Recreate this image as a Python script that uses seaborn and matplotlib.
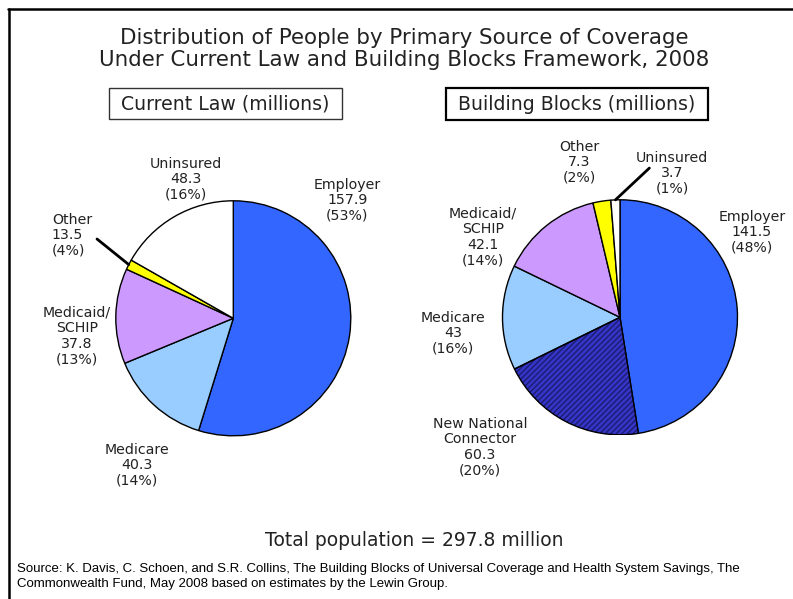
import matplotlib
matplotlib.use("Agg")
import matplotlib.pyplot as plt
import seaborn as sns
import numpy as np
from matplotlib.patches import Wedge, Rectangle
from matplotlib.lines import Line2D

# ---------------- data ----------------
left_categories = ["Employer", "Medicare", "Medicaid/\nSCHIP", "Other", "Uninsured"]
left_values = [157.9, 40.3, 37.8, 13.5, 48.3]          # values printed in labels
left_pcts = [53, 14, 13, 4, 16]
left_slice_sizes = [157.9, 40.3, 37.8, 4.0, 48.3]      # slice sizes as drawn in the original

right_categories = ["Employer", "New National\nConnector", "Medicare",
                    "Medicaid/\nSCHIP", "Other", "Uninsured"]
right_values = [141.5, 60.3, 43, 42.1, 7.3, 3.7]
right_pcts = [48, 20, 16, 14, 2, 1]

title_lines = ["Distribution of People by Primary Source of Coverage",
               "Under Current Law and Building Blocks Framework, 2008"]
left_title = "Current Law (millions)"
right_title = "Building Blocks (millions)"
total_text = "Total population = 297.8 million"
source_text = ("Source: K. Davis, C. Schoen, and S.R. Collins, The Building Blocks of Universal "
               "Coverage and Health System Savings, The\nCommonwealth Fund, May 2008 based on "
               "estimates by the Lewin Group.")

colors = {
    "Employer": "#3366FF",
    "Medicare": "#99CCFF",
    "Medicaid/\nSCHIP": "#CC99FF",
    "Other": "#FFFF00",
    "Uninsured": "#FFFFFF",
    "New National\nConnector": "#3535C8",
}

# ---------------- style ----------------
sns.set_style("white")
plt.rcParams["font.family"] = ["DejaVu Sans"]
TXT = "#222222"

W, H = 793, 599
fig = plt.figure(figsize=(W / 100, H / 100), dpi=100)
fig.patch.set_facecolor("white")


def px_axes(cx, cy, r):
    ax = fig.add_axes([(cx - r) / W, 1 - (cy + r) / H, 2 * r / W, 2 * r / H])
    return ax


def draw_pie(ax, cats, sizes, vals, pcts, label_pos, label_ha):
    wedges, _ = ax.pie(sizes, colors=[colors[c] for c in cats], startangle=90,
                       counterclock=False, radius=1.0,
                       wedgeprops=dict(edgecolor="black", linewidth=1.0))
    ax.set_xlim(-1, 1)
    ax.set_ylim(-1, 1)
    ax.set_aspect("equal")
    ax.axis("off")
    for c, v, p, (x, y), ha in zip(cats, vals, pcts, label_pos, label_ha):
        ax.text(x, y, f"{c}\n{v:g}\n({p}%)", ha=ha, va="center", fontsize=10.2,
                color=TXT, linespacing=1.13, multialignment=ha)
    return wedges


# left pie
R = 117.5
axL = px_axes(233.3, 318.3, R)
left_label_pos = [(0.97, 1.007), (-0.82, -1.249), (-1.33, -0.151), (-1.545, 0.709), (-0.40, 1.186)]
left_ha = ["center", "center", "center", "left", "center"]
wl = draw_pie(axL, left_categories, left_slice_sizes, left_values, left_pcts,
              left_label_pos, left_ha)
# leader line for "Other"
w = wl[3]
ang = np.deg2rad((w.theta1 + w.theta2) / 2)
axL.add_line(Line2D([-1.16, np.cos(ang)], [0.675, np.sin(ang)], color="black", lw=2,
                    clip_on=False))

# right pie
axR = px_axes(620.0, 317.3, R)
right_label_pos = [(1.123, 0.726), (-1.191, -1.104), (-1.421, -0.134), (-1.166, 0.683),
                   (-0.349, 1.322), (0.443, 1.228)]
right_ha = ["center"] * 6
wr = draw_pie(axR, right_categories, right_values, right_values, right_pcts,
              right_label_pos, right_ha)
# hatched connector slice
w = wr[1]
w.set_hatch("//////")
w.set_edgecolor("#1c1c70")
w.set_linewidth(0)
axR.add_patch(Wedge(w.center, w.r, w.theta1, w.theta2, fill=False, edgecolor="black",
                    linewidth=1.0))
# leader line for "Uninsured"
w = wr[5]
ang = np.deg2rad((w.theta1 + w.theta2) / 2)
axR.add_line(Line2D([0.25, np.cos(ang)], [1.27, np.sin(ang)], color="black", lw=2,
                    clip_on=False))

# ---------------- titles & boxes ----------------
fig.text(404 / W, 1 - 38 / H, title_lines[0], ha="center", va="center", fontsize=15.4, color=TXT)
fig.text(404 / W, 1 - 59.5 / H, title_lines[1], ha="center", va="center", fontsize=15.4, color=TXT)

fig.add_artist(Rectangle((109 / W, 1 - 119 / H), (342 - 109) / W, 31 / H,
                         transform=fig.transFigure, fill=False, edgecolor="#333333", lw=1.0))
fig.text(225.5 / W, 1 - 103.5 / H, left_title, ha="center", va="center", fontsize=13.6, color=TXT)
fig.add_artist(Rectangle((446 / W, 1 - 120 / H), (708 - 446) / W, 32 / H,
                         transform=fig.transFigure, fill=False, edgecolor="black", lw=1.6))
fig.text(577 / W, 1 - 104 / H, right_title, ha="center", va="center", fontsize=13.6, color=TXT)

fig.text(414 / W, 1 - 541 / H, total_text, ha="center", va="center", fontsize=13.5, color=TXT)
fig.text(17 / W, 1 - 576.5 / H, source_text, ha="left", va="center", fontsize=9.55,
         family=["Liberation Sans", "DejaVu Sans"], color="black", linespacing=1.25)

# frame lines (top and left)
fig.add_artist(Line2D([8 / W, 1], [1 - 9 / H, 1 - 9 / H], transform=fig.transFigure,
                      color="black", lw=1.8))
fig.add_artist(Line2D([9 / W, 9 / W], [1 - 9 / H, 0], transform=fig.transFigure,
                      color="black", lw=1.8))

fig.savefig("out.png", dpi=100)
